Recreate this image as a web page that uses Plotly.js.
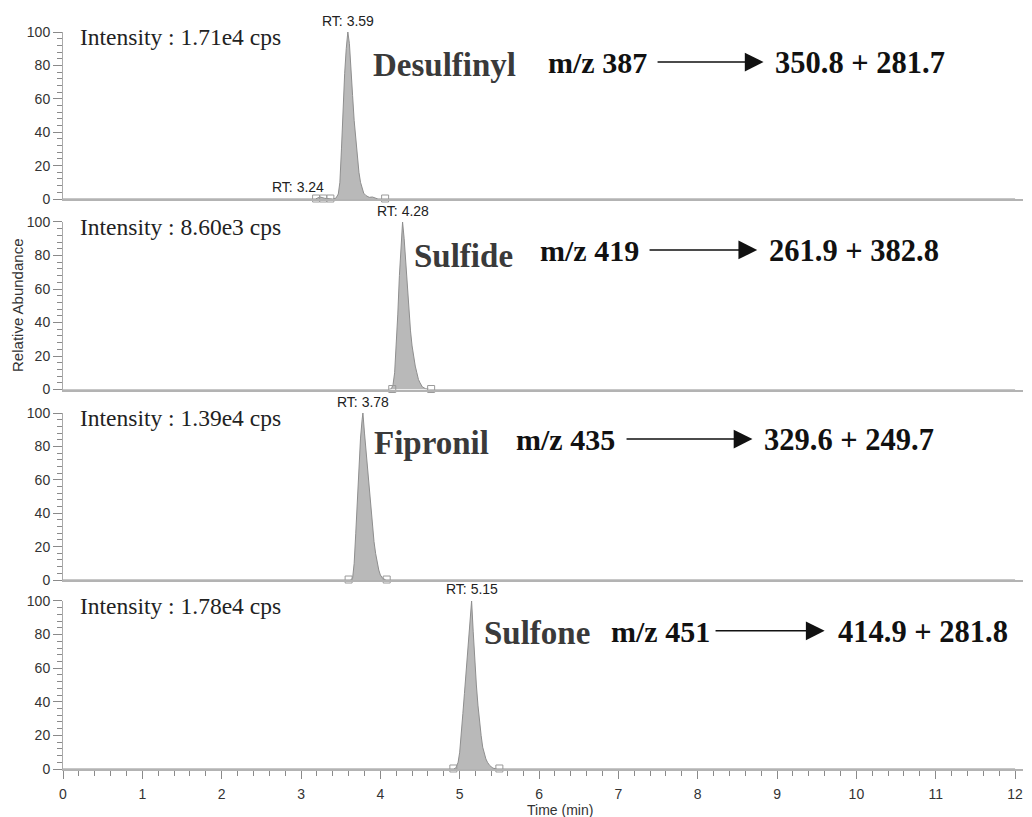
<!DOCTYPE html>
<html>
<head>
<meta charset="utf-8">
<script src="https://cdn.plot.ly/plotly-3.0.1.min.js"></script>
<style>html,body{margin:0;padding:0;background:#fff}#chart{width:1032px;height:817px}</style>
</head>
<body>
<div id="chart"></div>
<script>
// ---- data ----
const compounds = ['Desulfinyl', 'Sulfide', 'Fipronil', 'Sulfone'];
const intensities = ['1.71e4', '8.60e3', '1.39e4', '1.78e4'];
const precursors = ['387', '419', '435', '451'];
const products = ['350.8 + 281.7', '261.9 + 382.8', '329.6 + 249.7', '414.9 + 281.8'];
const retentionTimes = [3.59, 4.28, 3.78, 5.15];

const desulfinylTime = [0, 3.18, 3.24, 3.30, 3.40, 3.44, 3.47, 3.49, 3.51, 3.53, 3.55, 3.57, 3.59, 3.61, 3.63, 3.65, 3.67, 3.69, 3.71, 3.73, 3.75, 3.77, 3.79, 3.82, 3.86, 3.90, 3.93, 3.97, 12];
const desulfinylAbund = [0, 0, 1.2, 0.4, 0, 0.5, 3, 10, 30, 55, 75, 90, 100, 93, 80, 62, 47, 35, 24, 16, 10, 6, 3.5, 2, 1, 1.2, 0.5, 0, 0];

const sulfideTime = [0, 4.10, 4.14, 4.16, 4.18, 4.20, 4.22, 4.24, 4.26, 4.28, 4.30, 4.32, 4.34, 4.36, 4.38, 4.40, 4.42, 4.44, 4.46, 4.48, 4.50, 4.53, 4.57, 4.62, 12];
const sulfideAbund = [0, 0, 0.5, 3, 10, 25, 45, 68, 88, 100, 90, 76, 62, 47, 35, 26, 19, 14, 10, 6, 4, 1.5, 0.5, 0, 0];

const fipronilTime = [0, 3.62, 3.65, 3.67, 3.69, 3.71, 3.73, 3.75, 3.77, 3.78, 3.80, 3.82, 3.84, 3.86, 3.88, 3.90, 3.92, 3.94, 3.96, 3.98, 4.00, 4.03, 4.07, 12];
const fipronilAbund = [0, 0, 1, 10, 28, 50, 70, 85, 96, 100, 88, 77, 65, 53, 41, 31, 23, 16, 10, 6, 3, 1, 0, 0];

const sulfoneTime = [0, 4.92, 4.95, 4.98, 5.00, 5.02, 5.04, 5.06, 5.08, 5.10, 5.12, 5.15, 5.17, 5.19, 5.21, 5.23, 5.25, 5.27, 5.29, 5.31, 5.33, 5.35, 5.38, 5.42, 5.47, 12];
const sulfoneAbund = [0, 0, 0.5, 4, 10, 20, 33, 45, 58, 72, 86, 100, 82, 64, 50, 38, 28, 20, 13, 9, 6, 4, 2, 0.5, 0, 0];

// peak boundary boxes (retention times)
const desulfinylMarks = [3.19, 3.28, 3.37, 4.06];
const sulfideMarks = [4.15, 4.64];
const fipronilMarks = [3.60, 4.08];
const sulfoneMarks = [4.92, 5.50];

// small secondary RT label in panel 1
const minorRT = 3.24;

const xTickVals = [0,1,2,3,4,5,6,7,8,9,10,11,12];

// ---- build ----
const series = [
  [desulfinylTime, desulfinylAbund, desulfinylMarks],
  [sulfideTime, sulfideAbund, sulfideMarks],
  [fipronilTime, fipronilAbund, fipronilMarks],
  [sulfoneTime, sulfoneAbund, sulfoneMarks]
];
const domains = [[0.7734, 1], [0.5149, 0.7422], [0.2564, 0.4830], [0, 0.2280]];

// label layout (positions in data units of each panel)
const compX = [3.88, 4.40, 3.90, 5.28];
const compY = [80, 79.5, 81.8, 80.8];
const mzX = [6.09, 5.99, 5.69, 6.88];
const mzY = [81.5, 82.8, 83.9, 81.7];
const arrowY = [82, 83.3, 84.4, 82.2];
const arrowFrom = [7.475, 7.374, 7.084, 8.206];
const arrowTo = [8.83, 8.75, 8.69, 9.60];
const prodX = [8.95, 8.874, 8.81, 9.744];

const serif = '"Liberation Serif", "Times New Roman", serif';
const sans = '"Liberation Sans", Arial, sans-serif';

const traces = [];
const annotations = [];
const layout = {
  width: 1032, height: 817,
  margin: {l: 63, r: 9, t: 32, b: 48},
  paper_bgcolor: '#fff', plot_bgcolor: '#fff',
  showlegend: false,
  font: {family: sans, size: 14, color: '#333'}
};

series.forEach((s, i) => {
  const n = i + 1;
  const xa = n === 1 ? 'x' : 'x' + n;
  const ya = n === 1 ? 'y' : 'y' + n;
  traces.push({
    x: s[0], y: s[1], xaxis: xa, yaxis: ya, type: 'scatter', mode: 'lines',
    fill: 'tozeroy', fillcolor: '#b9b9b9',
    line: {color: '#8e8e8e', width: 1}, hoverinfo: 'skip'
  });
  traces.push({
    x: s[2], y: s[2].map(() => 0.3), xaxis: xa, yaxis: ya, type: 'scatter', mode: 'markers',
    marker: {symbol: 'square-open', size: 7, color: '#9a9a9a', line: {width: 1, color: '#9a9a9a'}},
    cliponaxis: false, hoverinfo: 'skip'
  });
  const last = n === 4;
  layout['xaxis' + (n === 1 ? '' : n)] = {
    domain: [0, 1], anchor: ya, range: [0, 12.1],
    showgrid: false, zeroline: false,
    showline: true, linecolor: '#b3b3b3', linewidth: 2,
    ticks: last ? 'outside' : '', ticklen: 8, tickcolor: '#8a8a8a', tickwidth: 1,
    tickvals: last ? xTickVals : [], ticktext: last ? xTickVals.map(String) : [],
    showticklabels: last, ticklabelstandoff: 3,
    tickfont: {family: sans, size: 14, color: '#333'},
    minor: last ? {dtick: 0.2, ticks: 'outside', ticklen: 5, tickcolor: '#8a8a8a', tickwidth: 1, showgrid: false} : undefined,
    matches: n === 1 ? undefined : 'x'
  };
  layout['yaxis' + (n === 1 ? '' : n)] = {
    domain: domains[i], anchor: xa, range: [0, 100],
    showgrid: false, zeroline: false,
    showline: true, linecolor: '#aaaaaa', linewidth: 1,
    ticks: 'outside', ticklen: 9, tickcolor: '#8a8a8a', tickwidth: 1,
    tickvals: [0, 20, 40, 60, 80, 100],
    tickfont: {family: sans, size: 14, color: '#333'},
    minor: {dtick: 4, ticks: 'outside', ticklen: 5, tickcolor: '#8a8a8a', tickwidth: 1, showgrid: false}
  };

  // Intensity label
  annotations.push({xref: xa, yref: ya, x: 0.19, y: 97, xanchor: 'left', yanchor: 'middle',
    text: 'Intensity : ' + intensities[i] + ' cps', showarrow: false,
    font: {family: serif, size: 23.5, color: '#222'}});
  // RT label (above the plotting range, so placed in paper units)
  annotations.push({xref: xa, yref: 'paper', x: retentionTimes[i], y: domains[i][1] + 0.0156,
    xanchor: 'center', yanchor: 'middle',
    text: 'RT: ' + retentionTimes[i].toFixed(2), showarrow: false,
    font: {family: sans, size: 14, color: '#222'}});
  // compound
  annotations.push({xref: xa, yref: ya, x: compX[i], y: compY[i], xanchor: 'left', yanchor: 'middle',
    text: '<b>' + compounds[i] + '</b>', showarrow: false,
    font: {family: serif, size: 33, color: '#3a3a3a'}});
  // m/z
  annotations.push({xref: xa, yref: ya, x: mzX[i], y: mzY[i], xanchor: 'left', yanchor: 'middle',
    text: '<b>m/z ' + precursors[i] + '</b>', showarrow: false,
    font: {family: serif, size: 30, color: '#111'}});
  // arrow
  annotations.push({xref: xa, yref: ya, x: arrowTo[i], y: arrowY[i], axref: xa, ayref: ya,
    ax: arrowFrom[i], ay: arrowY[i], text: '', showarrow: true,
    arrowhead: 2, arrowsize: 2.5, arrowwidth: 1.5, arrowcolor: '#111', standoff: 0, startstandoff: 0});
  // products
  annotations.push({xref: xa, yref: ya, x: prodX[i], y: mzY[i], xanchor: 'left', yanchor: 'middle',
    text: '<b>' + products[i] + '</b>', showarrow: false,
    font: {family: serif, size: 30.5, color: '#111'}});
});

// small RT label in panel 1
annotations.push({xref: 'x', yref: 'y', x: 2.96, y: 7.2, xanchor: 'center', yanchor: 'middle',
  text: 'RT: ' + minorRT.toFixed(2), showarrow: false, font: {family: sans, size: 14, color: '#222'}});

// axis titles
annotations.push({xref: 'paper', yref: 'paper', x: -0.0469, y: 0.6296, xanchor: 'center', yanchor: 'middle',
  text: 'Relative Abundance', textangle: -90, showarrow: false, font: {family: sans, size: 15, color: '#333'}});
annotations.push({xref: 'x4', yref: 'paper', x: 6.26, y: -0.0555, xanchor: 'center', yanchor: 'middle',
  text: 'Time (min)', showarrow: false, font: {family: sans, size: 14, color: '#333'}});

layout.annotations = annotations;

Plotly.newPlot('chart', traces, layout, {staticPlot: true, displayModeBar: false});
</script>
</body>
</html>
